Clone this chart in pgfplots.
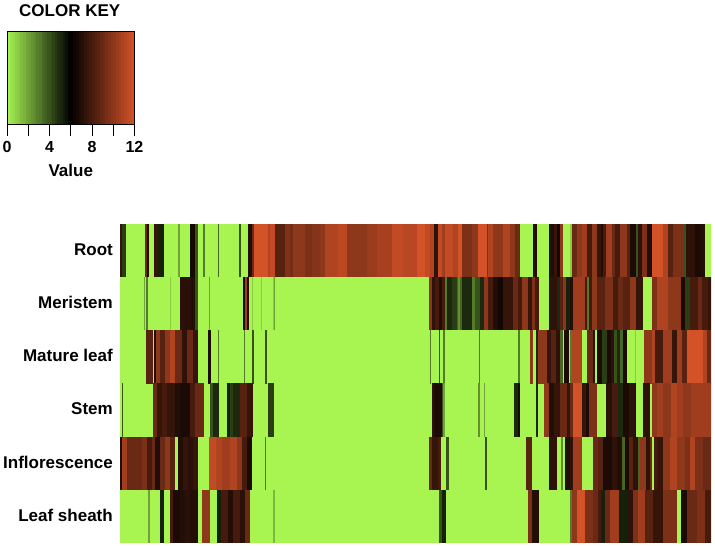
\documentclass[border=0pt]{standalone}
\usepackage{pgfplots}
\pgfplotsset{compat=1.18}
\usepackage{fontspec}
\setmainfont{Liberation Sans}
\pgfplotsset{
  colormap={gbr}{rgb255(0)=(168,245,82) rgb255(6)=(0,0,0) rgb255(12)=(212,82,40)},
  cell/.style={forget plot, point meta=\thisrow{v},
    quiver={u=(\thisrow{b}-\thisrow{a})/3+0.3, v=0, colored,
      every arrow/.append style={line width=53.17pt}}},
}
\begin{document}
\begin{tikzpicture}[x=1pt,y=1pt]
\path[use as bounding box] (0,0) rectangle (715,546);
% ---------- colour key
\begin{axis}[at={(7pt,422pt)},anchor=south west,scale only axis,width=127.5pt,height=93pt,
  xmin=0,xmax=12,ymin=0,ymax=1,point meta min=0,point meta max=12,
  xtick={0,2,4,6,8,10,12},xticklabels={0,,4,,8,,12},ytick=\empty,
  xtick pos=bottom,xtick align=outside,major tick length=12pt,
  tick style={black,line width=1pt},axis line style={black,line width=0.8pt},
  xticklabel style={font=\fontsize{16}{16}\selectfont\bfseries,inner sep=0pt,yshift=-5pt},
  xlabel={Value},xlabel style={font=\fontsize{17}{16}\selectfont\bfseries,inner sep=0pt,yshift=-11pt},
  title={COLOR KEY},title style={font=\fontsize{17}{16}\selectfont\bfseries,inner sep=0pt,yshift=8pt,xshift=-1pt},
  axis on top]
\addplot[point meta=\thisrow{v},quiver={u=0.26,v=0,colored,every arrow/.append style={line width=93pt}}] table[row sep=\\,x=x,y expr=0.5]{
x v\\
0 0.1\\ 0.25 0.4\\ 0.5 0.6\\ 0.75 0.9\\ 1 1.1\\ 1.25 1.4\\ 1.5 1.6\\ 1.75 1.9\\
2 2.1\\ 2.25 2.4\\ 2.5 2.6\\ 2.75 2.9\\ 3 3.1\\ 3.25 3.4\\ 3.5 3.6\\ 3.75 3.9\\
4 4.1\\ 4.25 4.4\\ 4.5 4.6\\ 4.75 4.9\\ 5 5.1\\ 5.25 5.4\\ 5.5 5.6\\ 5.75 5.9\\
6 6.1\\ 6.25 6.4\\ 6.5 6.6\\ 6.75 6.9\\ 7 7.1\\ 7.25 7.4\\ 7.5 7.6\\ 7.75 7.9\\
8 8.1\\ 8.25 8.4\\ 8.5 8.6\\ 8.75 8.9\\ 9 9.1\\ 9.25 9.4\\ 9.5 9.6\\ 9.75 9.9\\
10 10.1\\ 10.25 10.4\\ 10.5 10.6\\ 10.75 10.9\\ 11 11.1\\ 11.25 11.4\\ 11.5 11.6\\ 11.75 11.9\\
};
\end{axis}
% ---------- heat map
\begin{axis}[at={(120pt,3pt)},anchor=south west,scale only axis,width=591pt,height=319pt,
  xmin=120,xmax=711,ymin=0,ymax=6,point meta min=0,point meta max=12,
  xtick=\empty,ytick={0.5,1.5,2.5,3.5,4.5,5.5},
  yticklabels={Leaf sheath,Inflorescence,Stem,Mature leaf,Meristem,Root},
  major tick length=0pt,axis line style={draw=none},
  yticklabel style={font=\fontsize{17}{16}\selectfont\bfseries,inner sep=0pt,xshift=-7pt,yshift=1pt}]
% green ground of every row: y a b v
\addplot[cell] table[row sep=\\,x expr=120+\thisrow{a}/3,y=y]{
y a b v\\
5.5 0 1773 0\\ 4.5 0 1773 0\\ 3.5 0 1773 0\\ 2.5 0 1773 0\\ 1.5 0 1773 0\\ 0.5 0 1773 0\\
};
% crop x<270: a, b in thirds of a pixel from x=115
\addplot[cell] table[row sep=\\,x expr=115+\thisrow{a}/3,y=y]{
y a b v\\
5.5 16 22 7.5\\ 5.5 22 32 4.5\\ 5.5 90 96 9\\ 5.5 96 102 7\\ 5.5 118 130 7.5\\ 5.5 130 145 5.2\\ 5.5 190 194 2\\ 5.5 225 240 6.6\\ 5.5 240 248 4\\ 5.5 264 268 3\\ 5.5 308 312 3.5\\ 5.5 372 378 4\\ 5.5 398 412 7\\ 5.5 412 416 9\\ 5.5 416 460 12\\ 5.5 460 465 11\\
4.5 86 89 2\\ 4.5 94 97 3\\ 4.5 165 167 1\\ 4.5 196 228 7.2\\ 4.5 228 240 7\\ 4.5 240 248 4\\ 4.5 283 285 2\\ 4.5 385 390 6.8\\ 4.5 390 396 10.5\\ 4.5 396 401 7\\ 4.5 412 414 1\\ 4.5 438 441 1\\ 4.5 475 480 2\\
3.5 92 112 8.5\\ 3.5 118 122 7\\ 3.5 122 135 10\\ 3.5 135 150 8.5\\ 3.5 150 165 10\\ 3.5 165 180 11\\ 3.5 180 200 9\\ 3.5 200 215 7.3\\ 3.5 215 235 9\\ 3.5 235 248 7.5\\ 3.5 279 288 6.8\\ 3.5 308 311 3\\ 3.5 388 390 3\\ 3.5 412 416 4\\ 3.5 450 456 4\\
2.5 21 24 4\\ 2.5 113 125 9\\ 2.5 125 140 7.5\\ 2.5 140 155 8\\ 2.5 155 180 7.5\\ 2.5 180 195 7\\ 2.5 195 225 6.8\\ 2.5 225 240 8\\ 2.5 240 265 9\\ 2.5 285 295 4\\ 2.5 295 310 5\\ 2.5 335 345 5.2\\ 2.5 345 355 4.5\\ 2.5 355 375 5\\ 2.5 375 395 8.5\\ 2.5 395 413 7.5\\ 2.5 458 475 4.5\\
1.5 16 22 7\\ 1.5 22 35 10.5\\ 1.5 35 50 9\\ 1.5 50 80 9\\ 1.5 80 97 9.5\\ 1.5 97 110 8\\ 1.5 110 120 9\\ 1.5 120 135 7\\ 1.5 135 150 9\\ 1.5 150 165 10\\ 1.5 165 178 8.5\\ 1.5 190 205 7\\ 1.5 205 218 7.5\\ 1.5 218 235 7.2\\ 1.5 235 248 7.5\\ 1.5 282 302 11.5\\ 1.5 302 320 11\\ 1.5 320 345 10.5\\ 1.5 345 365 11\\ 1.5 365 380 10\\ 1.5 380 395 8\\ 1.5 395 410 6.8\\ 1.5 450 452 3\\
0.5 98 103 2\\ 0.5 135 145 5.2\\ 0.5 165 175 8\\ 0.5 175 195 6.8\\ 0.5 195 210 7\\ 0.5 210 225 7.2\\ 0.5 225 248 7\\ 0.5 260 283 10\\ 0.5 305 318 5.2\\ 0.5 318 340 8\\ 0.5 340 355 7\\ 0.5 355 375 8\\ 0.5 375 390 7.2\\ 0.5 390 405 9\\
};
% crop 270-430
\addplot[cell] table[row sep=\\,x expr=270+\thisrow{a}/3,y=y]{
y a b v\\
5.5 0 15 11.5\\ 5.5 15 45 8.5\\ 5.5 45 60 9.7\\ 5.5 60 70 9.3\\ 5.5 70 105 10\\ 5.5 105 125 9.5\\ 5.5 125 150 9.8\\ 5.5 150 165 10\\ 5.5 165 205 11\\ 5.5 205 230 11.3\\ 5.5 230 290 10\\ 5.5 290 320 10.4\\ 5.5 320 365 10.7\\ 5.5 365 400 11.5\\ 5.5 400 440 11.2\\ 5.5 440 480 12\\
4.5 8 11 1\\ 4.5 476 480 8\\
2.5 0 8 4.5\\
1.5 476 480 7\\
0.5 10 13 1.5\\
};
% crop 425-575
\addplot[cell] table[row sep=\\,x expr=425+\thisrow{a}/3,y=y]{
y a b v\\
5.5 0 15 11.5\\ 5.5 15 28 11\\ 5.5 28 40 7.3\\ 5.5 40 50 11.5\\ 5.5 50 60 10.5\\ 5.5 60 85 11.5\\ 5.5 85 100 11\\ 5.5 100 110 12\\ 5.5 110 140 9.5\\ 5.5 140 158 10\\ 5.5 158 185 12\\ 5.5 185 190 9.5\\ 5.5 190 205 11\\ 5.5 205 235 10\\ 5.5 235 255 11\\ 5.5 255 270 10\\ 5.5 270 285 9\\ 5.5 325 334 7\\ 5.5 372 388 7\\ 5.5 388 396 7.5\\ 5.5 396 406 6.6\\ 5.5 406 414 10\\ 5.5 440 450 12\\
4.5 12 20 10\\ 4.5 20 30 7.3\\ 4.5 30 42 8\\ 4.5 42 50 7\\ 4.5 50 60 8\\ 4.5 60 65 3\\ 4.5 65 80 5\\ 4.5 80 95 4.5\\ 4.5 95 100 3.5\\ 4.5 100 105 2.5\\ 4.5 105 110 3.5\\ 4.5 110 140 5\\ 4.5 140 150 3\\ 4.5 150 165 4\\ 4.5 165 178 5\\ 4.5 178 190 10\\ 4.5 190 205 8\\ 4.5 205 220 7\\ 4.5 220 235 6.5\\ 4.5 235 265 7.5\\ 4.5 265 280 9\\ 4.5 280 290 8\\ 4.5 290 310 10\\ 4.5 310 320 7.5\\ 4.5 320 330 9.5\\ 4.5 330 342 8\\ 4.5 372 395 7.3\\ 4.5 395 405 5\\ 4.5 405 415 8.5\\ 4.5 415 423 10\\ 4.5 423 432 5.2\\ 4.5 432 445 7.5\\ 4.5 445 450 10\\
3.5 16 18 3\\ 3.5 41 45 4\\ 3.5 55 59 3\\ 3.5 162 165 3\\ 3.5 280 283 3\\ 3.5 315 324 10\\ 3.5 333 338 5\\ 3.5 340 365 10\\ 3.5 365 378 7.5\\ 3.5 378 392 8.5\\ 3.5 392 405 7.3\\ 3.5 405 412 3.5\\ 3.5 418 432 6.8\\ 3.5 437 444 4\\ 3.5 444 450 11\\
2.5 21 27 7.3\\ 2.5 27 50 6.8\\ 2.5 50 55 4\\ 2.5 55 58 2\\ 2.5 159 163 2.5\\ 2.5 177 180 2\\ 2.5 267 280 5\\ 2.5 280 285 6.7\\ 2.5 333 337 5\\ 2.5 358 372 10\\ 2.5 372 388 7\\ 2.5 388 405 7.5\\ 2.5 405 425 9\\ 2.5 425 440 7.5\\ 2.5 440 450 10\\
1.5 12 20 9\\ 1.5 20 38 7.5\\ 1.5 38 47 8\\ 1.5 62 70 4\\ 1.5 179 185 4\\ 1.5 303 320 8.5\\ 1.5 372 396 7.3\\ 1.5 407 413 2.5\\ 1.5 420 443 7\\ 1.5 443 450 8\\
0.5 43 50 4\\ 0.5 50 62 5.2\\ 0.5 310 322 9.5\\ 0.5 322 342 7\\ 0.5 440 450 10\\
};
% crop 570-711
\addplot[cell] table[row sep=\\,x expr=570+\thisrow{a}/3,y=y]{
y a b v\\
5.5 0 5 1\\ 5.5 5 20 9\\ 5.5 20 35 10\\ 5.5 35 52 10.5\\ 5.5 52 66 8\\ 5.5 66 80 10\\ 5.5 80 92 7.5\\ 5.5 92 100 7\\ 5.5 100 108 8\\ 5.5 108 125 10.5\\ 5.5 125 135 9\\ 5.5 135 150 8\\ 5.5 150 170 10\\ 5.5 170 180 8.5\\ 5.5 180 198 6.8\\ 5.5 198 203 4\\ 5.5 203 216 7.3\\ 5.5 216 230 9.5\\ 5.5 230 245 7\\ 5.5 245 280 12\\ 5.5 280 295 11\\ 5.5 295 310 8.5\\ 5.5 310 340 9.5\\ 5.5 340 347 4\\ 5.5 347 375 7.3\\ 5.5 375 392 6.8\\ 5.5 392 405 7\\
4.5 0 8 7\\ 4.5 8 45 10.5\\ 4.5 45 50 8\\ 4.5 50 58 3\\ 4.5 58 65 8\\ 4.5 65 80 10\\ 4.5 80 105 8.5\\ 4.5 105 130 9.5\\ 4.5 130 145 8\\ 4.5 145 160 9\\ 4.5 160 180 8.5\\ 4.5 180 198 10\\ 4.5 198 218 7.5\\ 4.5 245 262 9.5\\ 4.5 262 295 11\\ 4.5 295 332 10\\ 4.5 332 345 6.8\\ 4.5 345 360 4.5\\ 4.5 360 385 8\\ 4.5 385 395 9\\ 4.5 395 415 8\\ 4.5 415 426 7.5\\
3.5 0 5 3\\ 3.5 5 35 11\\ 3.5 50 70 9\\ 3.5 70 74 7.3\\ 3.5 82 95 6.8\\ 3.5 95 110 4.5\\ 3.5 110 122 6.8\\ 3.5 122 132 7.3\\ 3.5 132 140 4\\ 3.5 140 150 5\\ 3.5 150 160 3.5\\ 3.5 160 170 6.8\\ 3.5 195 198 1\\ 3.5 222 245 10\\ 3.5 245 255 11\\ 3.5 255 280 8\\ 3.5 280 305 10.5\\ 3.5 305 322 7.5\\ 3.5 322 335 10.5\\ 3.5 335 352 8.5\\ 3.5 352 400 12\\ 3.5 400 410 11\\ 3.5 410 426 9\\
2.5 0 8 9\\ 2.5 8 36 12\\ 2.5 36 48 7.5\\ 2.5 48 56 6.8\\ 2.5 56 80 9.5\\ 2.5 108 125 7.2\\ 2.5 125 145 8\\ 2.5 145 160 5\\ 2.5 160 178 6.8\\ 2.5 178 195 7.3\\ 2.5 195 198 6.8\\ 2.5 218 240 7.3\\ 2.5 246 262 10\\ 2.5 262 280 10.5\\ 2.5 280 303 10\\ 2.5 303 320 11\\ 2.5 320 340 10.5\\ 2.5 340 362 10\\ 2.5 362 426 10.5\\
1.5 0 8 7.3\\ 1.5 8 35 10.5\\ 1.5 70 85 9\\ 1.5 85 100 8.5\\ 1.5 100 125 6.8\\ 1.5 125 140 7.3\\ 1.5 140 155 7\\ 1.5 155 165 3.5\\ 1.5 165 178 6.8\\ 1.5 178 190 8.5\\ 1.5 190 205 7.3\\ 1.5 205 210 3.5\\ 1.5 210 228 10\\ 1.5 228 240 7.3\\ 1.5 240 245 9\\ 1.5 251 260 8\\ 1.5 260 280 7.5\\ 1.5 280 300 10\\ 1.5 300 320 11\\ 1.5 320 345 10\\ 1.5 345 360 9.5\\ 1.5 360 375 11\\ 1.5 375 400 9.5\\ 1.5 400 426 9\\
0.5 0 6 3\\ 0.5 6 20 10\\ 0.5 20 45 12\\ 0.5 45 70 9.5\\ 0.5 70 85 9\\ 0.5 85 92 8\\ 0.5 92 106 5.2\\ 0.5 106 120 9\\ 0.5 120 148 10.5\\ 0.5 148 175 5.2\\ 0.5 175 190 7.3\\ 0.5 190 205 9.5\\ 0.5 205 225 10.5\\ 0.5 225 250 8.5\\ 0.5 250 280 7.5\\ 0.5 280 320 9.5\\ 0.5 334 352 6.8\\ 0.5 352 380 9\\ 0.5 380 405 9.5\\ 0.5 405 426 8\\
};
\end{axis}
\end{tikzpicture}
\end{document}
